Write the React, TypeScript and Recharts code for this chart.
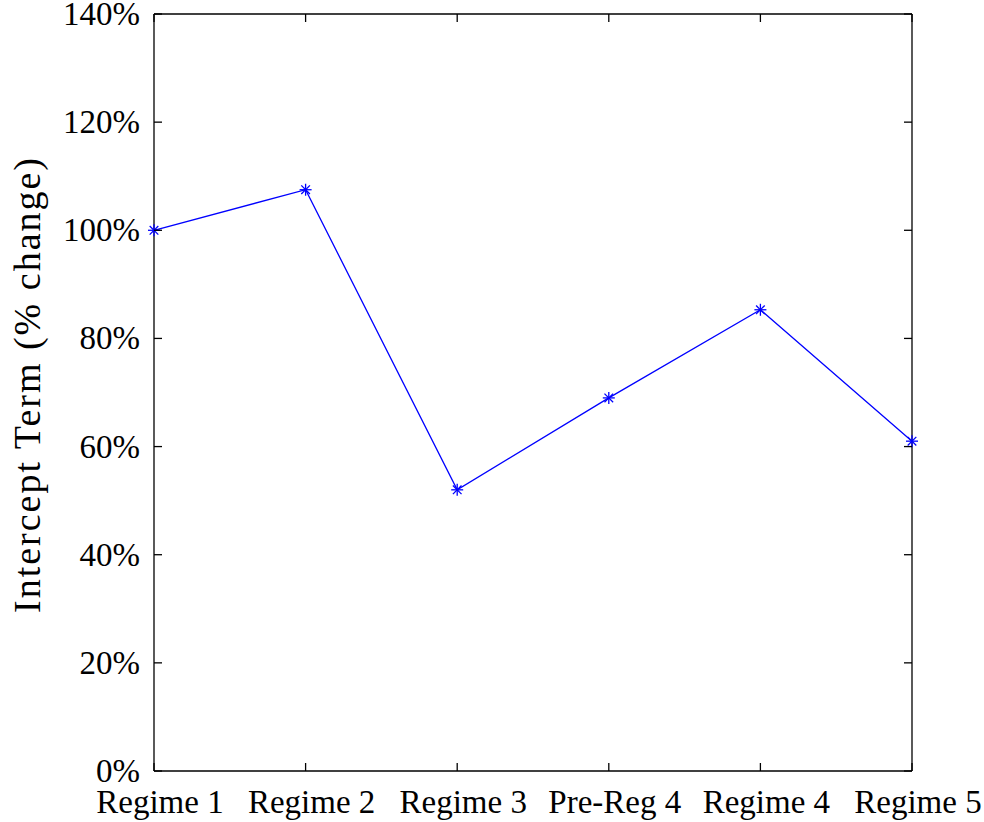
import { LineChart, Line, XAxis, YAxis } from 'recharts';

// Regimes along the x axis
const REGIMES = ['Regime 1', 'Regime 2', 'Regime 3', 'Pre-Reg 4', 'Regime 4', 'Regime 5'];

// Intercept term, % change
const INTERCEPT = [100, 107.5, 52, 69, 85.3, 61];

const Y_TICKS = [0, 20, 40, 60, 80, 100, 120, 140];

const FONT = '"Liberation Serif", "Times New Roman", serif';
const TICK_LEN = 8;

// chart box + plot frame (frame follows from margins / axis sizes below)
const W = 984;
const H = 822;
const Y_AXIS_W = 154;
const X_AXIS_H = 51;
const MARGIN = { top: 13, right: 71, left: 0, bottom: 0 };
const PLOT_LEFT = MARGIN.left + Y_AXIS_W;
const PLOT_TOP = MARGIN.top + 1;
const PLOT_RIGHT = W - MARGIN.right - 1;
const PLOT_BOTTOM = H - MARGIN.bottom - X_AXIS_H;

const chartData = REGIMES.map((name, i) => ({ name, value: INTERCEPT[i] }));

// matlab-style '*' marker
function StarDot(props: any) {
  const { cx, cy } = props;
  if (cx == null || cy == null) return null;
  const r = 6;
  const d = r * 0.72;
  return (
    <g stroke="#0000ff" strokeWidth={1.3}>
      <line x1={cx - r} y1={cy} x2={cx + r} y2={cy} />
      <line x1={cx} y1={cy - r} x2={cx} y2={cy + r} />
      <line x1={cx - d} y1={cy - d} x2={cx + d} y2={cy + d} />
      <line x1={cx - d} y1={cy + d} x2={cx + d} y2={cy - d} />
    </g>
  );
}

// tick label plus an inward tick mark
function InTick(props: any) {
  const { x, y, payload, side, label } = props;
  const text = label ? label(payload.value) : '';
  const st = { stroke: '#000', strokeWidth: 1.3 };
  if (side === 'bottom') {
    return (
      <g>
        <line x1={x} y1={PLOT_BOTTOM} x2={x} y2={PLOT_BOTTOM - TICK_LEN} {...st} />
        <text x={x + 6} y={PLOT_BOTTOM + 19} fill="#000" fontSize={33} fontFamily={FONT}
          textAnchor="middle" dominantBaseline="hanging">
          {text}
        </text>
      </g>
    );
  }
  if (side === 'top') {
    return <line x1={x} y1={PLOT_TOP} x2={x} y2={PLOT_TOP + TICK_LEN} {...st} />;
  }
  if (side === 'left') {
    return (
      <g>
        <line x1={PLOT_LEFT} y1={y} x2={PLOT_LEFT + TICK_LEN} y2={y} {...st} />
        <text x={PLOT_LEFT - 14} y={y} fill="#000" fontSize={33} fontFamily={FONT}
          textAnchor="end" dominantBaseline="central">
          {text}
        </text>
      </g>
    );
  }
  return <line x1={PLOT_RIGHT} y1={y} x2={PLOT_RIGHT - TICK_LEN} y2={y} {...st} />;
}

const axisStroke = { stroke: '#000', strokeWidth: 1.3 };

export default function App() {
  return (
    <div style={{ position: 'absolute', left: 0, top: 0, background: '#fff' }}>
      <LineChart width={W} height={H} data={chartData} margin={MARGIN}>
        <XAxis
          dataKey="name"
          xAxisId="bottom"
          height={X_AXIS_H}
          interval={0}
          axisLine={axisStroke}
          tickLine={false}
          tick={<InTick side="bottom" label={(v: string) => v} />}
        />
        <XAxis
          dataKey="name"
          xAxisId="top"
          orientation="top"
          height={1}
          interval={0}
          axisLine={axisStroke}
          tickLine={false}
          tick={<InTick side="top" />}
        />
        <YAxis
          yAxisId="left"
          type="number"
          width={Y_AXIS_W}
          domain={[0, 140]}
          ticks={Y_TICKS}
          interval={0}
          axisLine={axisStroke}
          tickLine={false}
          tick={<InTick side="left" label={(v: number) => `${v}%`} />}
          label={{
            value: 'Intercept Term (% change)',
            angle: -90,
            position: 'center',
            dx: -50,
            dy: -8,
            style: { fill: '#000', fontSize: 38, fontFamily: FONT, letterSpacing: 2 },
          }}
        />
        <YAxis
          yAxisId="right"
          orientation="right"
          type="number"
          width={1}
          domain={[0, 140]}
          ticks={Y_TICKS}
          interval={0}
          axisLine={axisStroke}
          tickLine={false}
          tick={<InTick side="right" />}
        />
        <Line
          xAxisId="bottom"
          yAxisId="left"
          type="linear"
          dataKey="value"
          stroke="#0000ff"
          strokeWidth={1.3}
          dot={<StarDot />}
          activeDot={false}
          isAnimationActive={false}
        />
        {/* invisible twin so the top and right frame axes get drawn */}
        <Line
          xAxisId="top"
          yAxisId="right"
          type="linear"
          dataKey="value"
          stroke="none"
          dot={false}
          activeDot={false}
          legendType="none"
          isAnimationActive={false}
        />
      </LineChart>
    </div>
  );
}
